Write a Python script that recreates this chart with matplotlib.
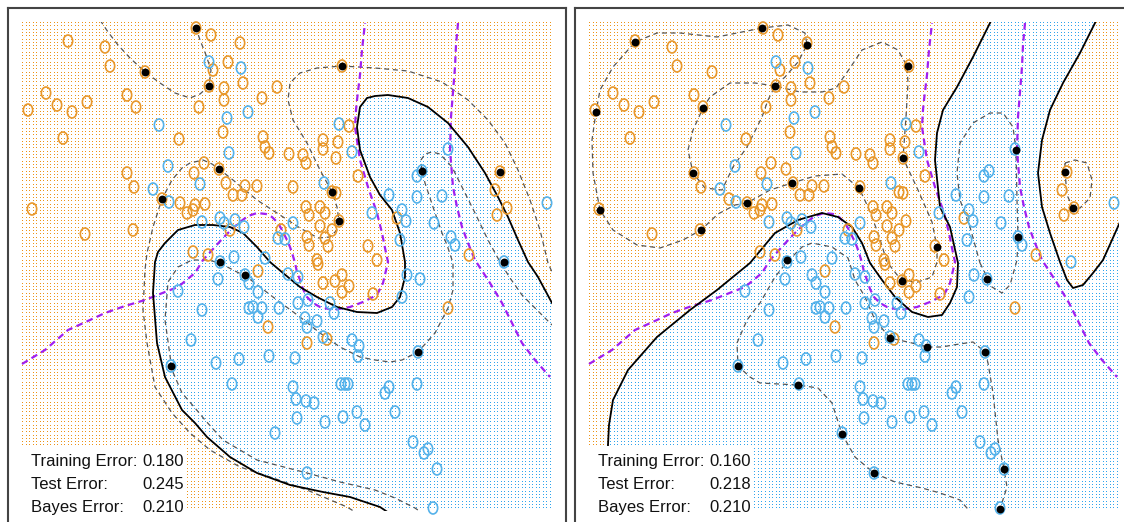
import numpy as np
import matplotlib.pyplot as plt
from matplotlib.path import Path
from matplotlib.patches import Rectangle

plt.rcParams['font.family'] = ['Liberation Sans', 'DejaVu Sans']

# training data (x1, x2) -- same points in both panels, y axis points down
orange_pts = [(68, 41), (105, 47), (110, 66), (46, 93), (57, 105), (72, 112), (87, 102), (28, 110),
              (127, 95), (136, 107), (63, 138), (179, 139), (127, 173), (134, 187), (180, 203), (187, 213),
              (32, 209), (85, 234), (133, 230), (211, 35), (240, 43), (213, 70), (228, 62), (224, 88),
              (243, 83), (277, 87), (262, 98), (199, 107), (224, 100), (223, 132), (263, 137), (265, 147),
              (269, 153), (289, 154), (303, 155), (306, 163), (349, 126), (323, 140), (323, 149), (338, 142),
              (336, 158), (358, 176), (204, 163), (194, 173), (226, 183), (245, 186), (233, 195), (242, 195),
              (257, 186), (293, 187), (336, 193), (195, 205), (205, 204), (193, 210), (230, 230), (306, 207),
              (309, 215), (320, 207), (325, 213), (320, 226), (332, 230), (281, 230), (307, 237), (325, 238),
              (309, 245), (328, 246), (368, 246), (193, 252), (208, 255), (317, 260), (495, 190), (507, 208),
              (497, 215), (397, 218), (469, 255), (377, 260), (258, 271), (268, 327), (307, 343), (327, 339),
              (318, 264), (323, 283), (335, 281), (342, 275), (342, 292), (349, 286), (373, 294), (448, 308),
              (196, 28), (209, 86), (145, 72), (342, 66), (162, 199), (219, 169), (332, 192), (339, 221),
              (500, 172)]
blue_pts = [(159, 125), (168, 166), (153, 189), (169, 202), (209, 62), (241, 68), (227, 118), (248, 112),
            (229, 153), (339, 124), (352, 152), (200, 184), (324, 183), (202, 222), (220, 218), (224, 223),
            (235, 220), (244, 227), (372, 213), (293, 223), (278, 238), (285, 239), (234, 257), (265, 258),
            (448, 149), (417, 176), (547, 203), (389, 195), (417, 197), (442, 196), (402, 210), (406, 221),
            (434, 223), (400, 240), (451, 237), (455, 245), (178, 291), (191, 340), (218, 279), (249, 283),
            (258, 292), (202, 310), (249, 308), (253, 307), (262, 308), (258, 317), (279, 308), (288, 274),
            (298, 277), (298, 303), (308, 300), (305, 318), (307, 327), (317, 321), (323, 337), (330, 303),
            (334, 313), (352, 340), (359, 346), (358, 356), (216, 363), (239, 359), (269, 356), (295, 358),
            (232, 384), (293, 387), (296, 399), (306, 401), (314, 403), (341, 384), (345, 384), (348, 384),
            (297, 418), (325, 422), (343, 417), (357, 412), (365, 425), (275, 433), (307, 473), (407, 275),
            (420, 279), (402, 297), (389, 387), (385, 393), (417, 384), (395, 412), (413, 442), (424, 453),
            (428, 449), (437, 469), (433, 508), (422, 171), (504, 262), (220, 262), (245, 275), (171, 366),
            (418, 352)]

# Bayes decision boundary (purple), two branches
bayes_a = [(22, 364), (45, 350), (68, 330), (90, 320), (105, 313), (125, 306), (145, 300), (165, 292),
           (178, 287), (195, 273), (203, 260), (213, 249), (223, 238), (232, 229), (240, 222), (248, 216),
           (257, 213), (266, 214), (272, 217), (278, 223), (282, 230), (287, 240), (290, 247), (293, 256),
           (295, 263), (297, 272), (300, 280), (303, 289), (307, 297), (313, 303), (320, 307), (333, 310),
           (350, 307), (363, 302), (377, 295), (383, 283), (388, 262), (385, 248), (382, 233), (377, 213),
           (368, 187), (360, 160), (355, 127), (356, 110), (357, 100), (360, 75), (362, 50), (365, 23)]
bayes_b = [(458, 23), (456, 45), (455, 67), (453, 92), (451, 117), (450, 150), (453, 187), (457, 207),
           (462, 227), (468, 243), (475, 260), (490, 283), (502, 303), (512, 323), (522, 343), (535, 360),
           (550, 377)]

# left panel: SVM, degree-4 polynomial kernel
poly_boundary = [(392, 515), (380, 507), (350, 497), (323, 492), (290, 485), (257, 473), (230, 457),
                 (207, 437), (195, 423), (182, 410), (165, 377), (157, 343), (153, 293), (155, 262),
                 (158, 252), (165, 243), (178, 230), (195, 225), (213, 225), (230, 227), (243, 233),
                 (257, 247), (270, 262), (283, 273), (300, 287), (317, 297), (337, 307), (357, 312),
                 (377, 313), (392, 307), (400, 297), (405, 277), (405, 262), (400, 233), (392, 210),
                 (380, 195), (370, 177), (360, 150), (357, 127), (360, 107), (367, 98), (375, 96), (388, 95),
                 (408, 98), (428, 107), (448, 123), (468, 147), (485, 173), (498, 197), (508, 217),
                 (518, 240), (528, 262), (538, 277), (552, 303)]
poly_margins = [
    [(360, 515), (347, 507), (307, 490), (273, 478), (240, 467), (210, 450), (190, 433), (172, 413),
     (155, 387), (147, 343), (143, 310), (145, 270), (147, 253), (153, 227), (162, 199), (172, 180),
     (182, 168), (190, 163), (203, 160), (212, 164), (219, 169), (233, 180), (257, 200), (280, 215),
     (300, 228), (318, 238), (330, 237), (337, 230), (339, 221), (337, 207), (332, 192), (320, 170),
     (307, 143), (293, 120), (288, 100), (290, 83), (300, 73), (317, 68), (342, 66), (375, 68), (408, 71),
     (442, 82), (468, 100), (488, 120), (505, 143), (518, 170), (530, 200), (540, 230), (548, 263),
     (552, 272)],
    [(425, 515), (415, 508), (395, 498), (375, 490), (340, 482), (307, 473), (257, 460), (223, 440),
     (205, 420), (195, 408), (182, 393), (172, 370), (165, 320), (168, 282), (178, 267), (192, 260),
     (208, 260), (220, 263), (233, 270), (247, 277), (273, 297), (300, 317), (320, 333), (340, 347),
     (360, 357), (375, 360), (390, 362), (402, 360), (418, 352), (435, 333), (448, 308), (453, 290),
     (453, 263), (447, 245), (442, 233), (433, 207), (425, 183), (422, 171), (421, 160), (425, 154),
     (432, 152), (440, 154), (452, 167), (462, 187), (475, 213), (488, 240), (500, 262), (510, 278),
     (522, 295), (535, 308), (552, 325)],
    [(100, 20), (108, 32), (118, 45), (130, 58), (145, 72), (160, 83), (175, 93), (190, 98), (200, 94),
     (209, 86), (211, 70), (206, 55), (200, 40), (196, 28), (194, 20)],
]
poly_sv = [(196, 28), (209, 86), (145, 72), (342, 66), (162, 199), (219, 169), (332, 192), (339, 221),
           (422, 171), (500, 172), (504, 262), (220, 262), (245, 275), (171, 366), (418, 352)]
poly_errors = ['0.180', '0.245', '0.210']

# right panel: SVM, radial kernel
rad_boundary_a = [(41, 515), (41, 445), (42, 425), (46, 400), (61, 370), (90, 337), (123, 310), (150, 290),
                  (183, 263), (208, 233), (231, 220), (255, 213), (271, 217), (285, 227), (295, 243),
                  (303, 263), (315, 280), (328, 297), (345, 312), (361, 317), (375, 315), (383, 303),
                  (390, 287), (391, 263), (383, 227), (373, 207), (368, 160), (370, 133), (376, 110),
                  (390, 87), (406, 57), (423, 23), (428, 12)]
rad_boundary_b = [(530, 15), (528, 23), (513, 53), (496, 83), (483, 110), (475, 140), (471, 173), (475, 207),
                  (483, 233), (493, 262), (500, 280), (506, 288), (516, 285), (526, 273), (536, 260),
                  (545, 240), (553, 222), (563, 205)]
rad_margins = [
    [(195, 28), (150, 37), (113, 33), (90, 33), (68, 42), (46, 67), (33, 90), (29, 112), (25, 140),
     (26, 173), (33, 210), (46, 230), (70, 245), (93, 248), (116, 240), (134, 230), (151, 214), (168, 205),
     (180, 203), (203, 190), (225, 183), (248, 176), (275, 174), (292, 188), (301, 207), (311, 233),
     (320, 262), (331, 276), (348, 283), (365, 277), (370, 262), (370, 247), (365, 222), (351, 190),
     (336, 158), (339, 117), (341, 83), (340, 66), (331, 50), (315, 42), (295, 50), (283, 68), (269, 88),
     (255, 92), (233, 92), (208, 86), (218, 77), (231, 62), (240, 45), (238, 33), (221, 25), (195, 28)],
    [(208, 86), (188, 83), (163, 83), (143, 97), (136, 108), (126, 130), (121, 150), (126, 173), (138, 188),
     (155, 190), (166, 167), (180, 147), (195, 117), (201, 100), (208, 86)],
    [(406, 515), (393, 500), (373, 493), (355, 488), (328, 482), (307, 473), (288, 457), (275, 434),
     (265, 403), (251, 388), (231, 385), (193, 383), (183, 377), (171, 366), (170, 343), (180, 320),
     (193, 303), (208, 277), (220, 262), (235, 247), (245, 243), (265, 247), (281, 258), (288, 280),
     (298, 297), (308, 320), (323, 338), (345, 343), (360, 347), (375, 347), (386, 345), (406, 342),
     (418, 352), (421, 363), (426, 393), (431, 440), (437, 469), (440, 487), (433, 509), (431, 515)],
    [(413, 263), (425, 287), (435, 293), (443, 285), (450, 260), (451, 237), (450, 200), (449, 150),
     (446, 127), (436, 113), (423, 113), (406, 123), (393, 143), (390, 173), (393, 200), (403, 227),
     (413, 263)],
    [(498, 163), (508, 160), (520, 163), (525, 180), (523, 198), (513, 208), (506, 208), (500, 195),
     (498, 172), (498, 163)],
]
rad_sv = [(68, 42), (29, 112), (136, 108), (126, 173), (33, 210), (134, 230), (180, 203), (195, 28),
          (240, 45), (208, 86), (341, 66), (336, 158), (225, 183), (292, 188), (370, 247), (220, 260),
          (449, 150), (498, 172), (506, 208), (451, 237), (171, 366), (323, 338), (360, 347), (231, 385),
          (275, 434), (307, 473), (420, 279), (418, 352), (437, 469), (433, 509), (335, 281)]
rad_errors = ['0.160', '0.218', '0.210']

labels = ['Training Error:', 'Test Error:', 'Bayes Error:']

ORANGE = '#E8982C'
BLUE = '#55B2EA'
DOT_OR = '#EC9418'
DOT_BL = '#30A4EC'

circ = Path.unit_circle()
oval = Path(circ.vertices * [0.78, 1.0], circ.codes)

gx, gy = np.meshgrid(np.arange(22, 551, 3.52), np.arange(23, 511, 3.3))
grid = np.column_stack([gx.ravel(), gy.ravel()])


def draw_panel(ax, blue_region, boundaries, margins, svs, errors):
    clip = Rectangle((21, 22), 531, 489, transform=ax.transData)
    inside = Path(blue_region).contains_points(grid)
    # background classification grid, one pixel per point
    ax.plot(grid[~inside, 0], grid[~inside, 1], ',', color=DOT_OR, zorder=1)
    ax.plot(grid[inside, 0], grid[inside, 1], ',', color=DOT_BL, zorder=1)
    lines = []
    for m in margins:
        m = np.array(m)
        lines += ax.plot(m[:, 0], m[:, 1], color='#555555', lw=0.9, ls=(0, (4, 3)), zorder=2)
    for b in [bayes_a, bayes_b]:
        b = np.array(b)
        lines += ax.plot(b[:, 0], b[:, 1], color='#A020F0', lw=1.6, ls=(0, (3, 2)), zorder=2)
    for b in boundaries:
        b = np.array(b)
        lines += ax.plot(b[:, 0], b[:, 1], color='black', lw=1.3, zorder=2)
    for ln in lines:
        ln.set_clip_path(clip)
    o = np.array(orange_pts)
    bl = np.array(blue_pts)
    ax.scatter(o[:, 0], o[:, 1], s=74, marker=oval, facecolors='none', edgecolors=ORANGE, linewidths=1.2, zorder=3)
    ax.scatter(bl[:, 0], bl[:, 1], s=74, marker=oval, facecolors='none', edgecolors=BLUE, linewidths=1.2, zorder=3)
    sv = np.array(svs)
    ax.scatter(sv[:, 0], sv[:, 1], s=32, marker='o', c='black', linewidths=0, zorder=4)
    ax.add_patch(Rectangle((18, 446), 169, 100, facecolor='white', edgecolor='none', zorder=5))
    for i, (lab, val) in enumerate(zip(labels, errors)):
        ax.text(31, 461 + 23.3 * i, lab, fontsize=12, va='center', color='#111111', zorder=6)
        ax.text(142, 461 + 23.3 * i, val, fontsize=12, va='center', color='#111111', zorder=6)
    ax.set_xlim(8, 566)
    ax.set_ylim(531, 8)
    ax.set_xticks([])
    ax.set_yticks([])
    for s in ax.spines.values():
        s.set_color('#444444')
        s.set_linewidth(1.5)


fig = plt.figure(figsize=(11.24, 5.22), dpi=100)
ax1 = fig.add_axes([8 / 1124, -9 / 522, 558 / 1124, 523 / 522])
ax2 = fig.add_axes([575 / 1124, -9 / 522, 558 / 1124, 523 / 522])

draw_panel(ax1, poly_boundary + [(600, 303), (600, 600), (392, 600)],
           [poly_boundary], poly_margins, poly_sv, poly_errors)
draw_panel(ax2, rad_boundary_a + rad_boundary_b + [(600, 205), (600, 600), (41, 600)],
           [rad_boundary_a, rad_boundary_b], rad_margins, rad_sv, rad_errors)

fig.savefig('out.png', dpi=100)
